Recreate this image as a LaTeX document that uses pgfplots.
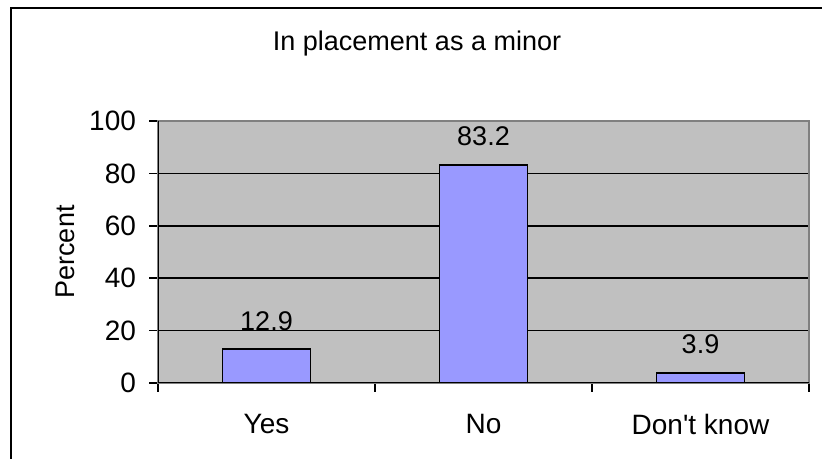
\documentclass[border=0pt]{standalone}
\usepackage{fontspec}
\setmainfont{Liberation Sans}[Ligatures=TeXOff]
\usepackage{pgfplots}
\pgfplotsset{compat=1.18}
\definecolor{plotgray}{RGB}{192,192,192}
\definecolor{edgegray}{RGB}{128,128,128}
\definecolor{barblue}{RGB}{153,153,255}

\begin{document}
\begin{tikzpicture}
\useasboundingbox (0,0) rectangle (411pt,229.5pt);
\draw[line width=1pt] (5.5pt,0) -- (5.5pt,225.5pt) -- (411pt,225.5pt);
\node[font=\fontsize{13.5}{16}\selectfont] at (208.5pt,207.5pt) {In placement as a minor};
\node[font=\fontsize{13.5}{16}\selectfont, rotate=90] at (32.5pt,103.5pt) {Percent};
\begin{axis}[
    at={(79pt,38pt)}, anchor=south west,
    scale only axis,
    width=325.5pt, height=131pt,
    xmin=-0.5, xmax=2.5,
    ymin=0, ymax=100,
    ytick={0,20,40,60,80,100},
    xtick={-0.5,0.5,1.5,2.5},
    xticklabels={},
    extra x ticks={0,1,2},
    extra x tick labels={Yes,No,Don't know},
    extra x tick style={major tick length=0pt, xticklabel style={yshift=-12pt}},
    xtick pos=bottom, ytick pos=left,
    tick align=outside,
    major tick length=4.5pt,
    every tick/.style={black, line width=0.75pt},
    ymajorgrids=true,
    grid style={black, line width=0.75pt},
    axis background/.style={fill=plotgray},
    axis line style={edgegray, line width=1pt},
    ticklabel style={font=\fontsize{14}{16}\selectfont},
    /pgf/number format/assume math mode=true,
    yticklabel style={xshift=-3pt},
    ybar, bar width=44pt,
    nodes near coords,
    nodes near coords style={font=\fontsize{13.5}{16}\selectfont, inner sep=0pt, yshift=9pt,
        /pgf/number format/fixed, /pgf/number format/precision=1},
]
\addplot[draw=black, line width=0.75pt, fill=barblue] coordinates {
  (0,12.9) (1,83.2) (2,3.9)
};
\draw[edgegray, line width=1pt] (rel axis cs:0,1) -- (rel axis cs:1,1) -- (rel axis cs:1,0);
\draw[black, line width=0.9pt] (rel axis cs:0,1) -- (rel axis cs:0,0) -- (rel axis cs:1,0);
\end{axis}
\end{tikzpicture}
\end{document}
